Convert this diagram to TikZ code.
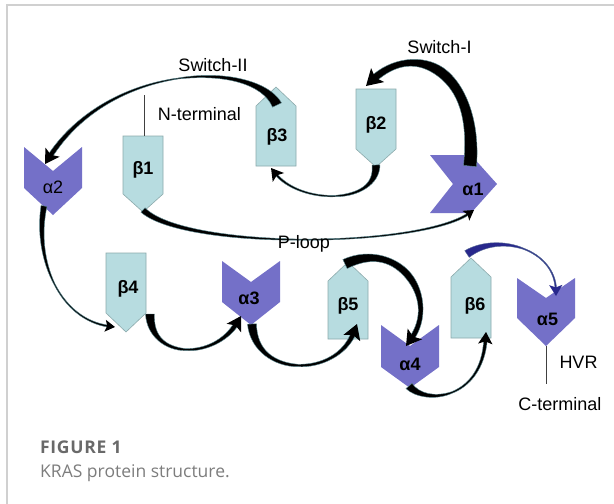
\documentclass[tikz,border=0pt]{standalone}
\usepackage{fontspec}
\setmainfont{Liberation Sans}
\newfontfamily\capfont{Open Sans}
\newfontfamily\capfontwide[LetterSpace=4]{Open Sans}
\usetikzlibrary{calc}

\definecolor{strandfill}{RGB}{183,220,224}
\definecolor{stranddraw}{RGB}{140,170,172}
\definecolor{helixfill}{RGB}{116,112,200}
\definecolor{loopedge}{RGB}{95,140,148}
\definecolor{navyloop}{RGB}{40,40,140}
\definecolor{navyedge}{RGB}{90,110,150}
\definecolor{framegray}{RGB}{208,208,208}
\definecolor{capgray}{RGB}{105,105,105}
\definecolor{capgraylight}{RGB}{125,125,125}

\tikzset{
  strand/.style={fill=strandfill, draw=stranddraw, line width=0.6pt},
  helix/.style={fill=helixfill, draw=none},
  sslabel/.style={font=\fontsize{18}{18}\selectfont\bfseries, anchor=base, inner sep=0pt},
  sslabelthin/.style={font=\fontsize{18}{18}\selectfont, anchor=base, inner sep=0pt},
  plain/.style={font=\fontsize{18}{18}\selectfont, anchor=base, inner sep=0pt},
  tether/.style={draw=black!75, line width=0.7pt},
  loopfill/.style={fill=black, draw=loopedge, line width=0.4pt},
  loopline/.style={draw=loopedge, line width=0.8pt},
  loophead/.style={fill=black},
  navyfill/.style={fill=navyloop, draw=navyedge, line width=0.4pt},
  navyline/.style={draw=navyedge, line width=0.8pt},
  navyhead/.style={fill=navyloop},
}

% Tapered loop from #2 to the arrow tip #5 along a cubic with controls #3, #4.
% #1 family (loop/navy); #6, #7, #8 half widths (pt) at start, middle and
% just before the head; #9 head length (pt).
\newcommand\looparrow[9]{%
  \coordinate (q0) at (#2);
  \coordinate (r3) at ($(#5)!0.55*#9pt!(#4)$);
  \coordinate (q1) at ($(q0)!0.5!(#3)$);
  \coordinate (m12) at ($(#3)!0.5!(#4)$);
  \coordinate (r2) at ($(#4)!0.5!(r3)$);
  \coordinate (q2) at ($(q1)!0.5!(m12)$);
  \coordinate (r1) at ($(m12)!0.5!(r2)$);
  \coordinate (mid) at ($(q2)!0.5!(r1)$);
  \pgfmathsetmacro\wqa{(2*#6+#7)/3}%
  \pgfmathsetmacro\wqb{(#6+2*#7)/3}%
  \pgfmathsetmacro\wra{(2*#7+#8)/3}%
  \pgfmathsetmacro\wrb{(#7+2*#8)/3}%
  \draw[#1line] (q0) .. controls (q1) and (q2) .. (mid) .. controls (r1) and (r2) .. (r3);
  \filldraw[#1fill]
    ($(q0)!#6pt!90:(q1)$)
    .. controls ($(q1)!\wqa pt!-90:(q0)$) and ($(q2)!\wqb pt!90:(mid)$) .. ($(mid)!#7pt!90:(r1)$)
    .. controls ($(r1)!\wra pt!-90:(mid)$) and ($(r2)!\wrb pt!90:(r3)$) .. ($(r3)!#8pt!-90:(r2)$)
    -- ($(r3)!#8pt!90:(r2)$)
    .. controls ($(r2)!\wrb pt!-90:(r3)$) and ($(r1)!\wra pt!90:(mid)$) .. ($(mid)!#7pt!-90:(r1)$)
    .. controls ($(q2)!\wqb pt!-90:(mid)$) and ($(q1)!\wqa pt!90:(q0)$) .. ($(q0)!#6pt!-90:(q1)$)
    -- cycle;
  \fill[#1head] (#5)
    -- ($(#5)!#9pt!(#4)!0.6*#9pt!90:(#5)$)
    -- ($(#5)!0.78*#9pt!(#4)$)
    -- ($(#5)!#9pt!(#4)!0.6*#9pt!-90:(#5)$) -- cycle;
}

\begin{document}
\begin{tikzpicture}[x=1pt, y=-1pt]
\useasboundingbox (0,0) rectangle (614,504);
\fill[white] (0,0) rectangle (614,504);

% page frame
\draw[framegray, line width=1.3pt] (7,504) -- (7,5) -- (614,5);

% beta strands
\draw[strand] (123,136) -- (163,136) -- (163,194) -- (143,212) -- (123,194) -- cycle;
\draw[strand] (356,89) -- (396,89) -- (396,149) -- (376,167) -- (356,149) -- cycle;
\draw[strand] (256,166) -- (296,166) -- (296,106) -- (276,87) -- (256,106) -- cycle;
\draw[strand] (106,253) -- (146,253) -- (146,313) -- (126,332) -- (106,313) -- cycle;
\draw[strand] (328,339) -- (368,339) -- (368,281) -- (348,262) -- (328,281) -- cycle;
\draw[strand] (451,338) -- (491,338) -- (491,277) -- (471,258) -- (451,277) -- cycle;

% alpha helices
\fill[helix] (24,147) -- (53,171) -- (82,147) -- (82,188) -- (53,215) -- (24,188) -- cycle;
\fill[helix] (430,155) -- (453,184) -- (430,213) -- (471,213) -- (497,184) -- (471,155) -- cycle;
\fill[helix] (222,261) -- (251,282) -- (280,261) -- (280,302) -- (251,325) -- (222,302) -- cycle;
\fill[helix] (381,325) -- (410,346) -- (439,325) -- (439,367) -- (410,388) -- (381,367) -- cycle;
\fill[helix] (517,278) -- (546,298) -- (575,278) -- (575,318) -- (546,346) -- (517,318) -- cycle;

% element labels
\node[sslabel] (b1) at (143,174.5) {β1};
\node[sslabel] (b2) at (376,129.5) {β2};
\node[sslabel] (b3) at (277,141.5) {β3};
\node[sslabel] (b4) at (128,293) {β4};
\node[sslabel] (b5) at (348,310.5) {β5};
\node[sslabel] (b6) at (475,310) {β6};
\node[sslabelthin] (a2) at (53,193) {α2};
\node[sslabel] (a1) at (473,195) {α1};
\node[sslabel] (a3) at (249,304.5) {α3};
\node[sslabel] (a4) at (410,370) {α4};
\node[sslabel] (a5) at (547.5,325) {α5};

% termini
\coordinate (nt-top) at (144,95);
\coordinate (nt-bot) at (144,136);
\draw[tether] (nt-top) -- (nt-bot);
\coordinate (ct-top) at (546,346);
\coordinate (ct-bot) at (546,384);
\draw[tether] (ct-top) -- (ct-bot);

% loop end points (arrow tips on the receiving element)
\coordinate (b1-out) at (143,210);
\coordinate (a1-in) at (474,210);
\coordinate (a1-out) at (470,166);
\coordinate (b2-in) at (366,86);
\coordinate (b2-out) at (376,165);
\coordinate (b3-in) at (271,168);
\coordinate (b3-out) at (277,105);
\coordinate (a2-in) at (45,164);
\coordinate (a2-out) at (44,206);
\coordinate (b4-in) at (115,327);
\coordinate (b4-out) at (150,314);
\coordinate (a3-in) at (241,316);
\coordinate (a3-out) at (252,324);
\coordinate (b5-in) at (357,324);
\coordinate (b5-out) at (345,264);
\coordinate (a4-in) at (406,346);
\coordinate (a4-out) at (409,386);
\coordinate (b6-in) at (486,332);
\coordinate (b6-out) at (467,254);
\coordinate (a5-in) at (556,296);

% loops
\looparrow{loop}{b1-out}{185,250}{420,248}{a1-in}{3}{0.5}{1.2}{10}
\looparrow{loop}{a1-out}{479,70}{415,40}{b2-in}{6.5}{5}{3.5}{16}
\looparrow{loop}{b2-out}{378,205}{300,205}{b3-in}{4}{0.7}{1.2}{12}
\looparrow{loop}{b3-out}{255,60}{110,62}{a2-in}{5}{0.5}{2.5}{14}
\looparrow{loop}{a2-out}{34,260}{60,320}{b4-in}{3}{0.6}{1}{10}
\looparrow{loop}{b4-out}{150,360}{215,360}{a3-in}{4.5}{1}{2.5}{14}
\looparrow{loop}{a3-out}{255,378}{337,378}{b5-in}{4.5}{1.2}{2.5}{15}
\looparrow{loop}{b5-out}{400,238}{440,300}{a4-in}{5}{3.5}{2.5}{15}
\looparrow{loop}{a4-out}{425,405}{482,400}{b6-in}{4}{0.8}{1.8}{12}
\looparrow{navy}{b6-out}{500,232}{555,250}{a5-in}{4}{0.6}{0.8}{11}

% annotations
\node[plain] (sw2) at (213,71) {Switch-II};
\node[plain] (sw1) at (439.5,53) {Switch-I};
\node[plain] (nterm) at (199.5,120) {N-terminal};
\node[plain] (ploop) at (304,248) {P-loop};
\node[plain] (hvr) at (578.5,368) {HVR};
\node[plain] (cterm) at (560,410) {C-terminal};

% caption
\node[anchor=base west, inner sep=0pt, text=capgray, font=\capfontwide\fontsize{17.5}{17.5}\selectfont\bfseries] (figno) at (40,453) {FIGURE 1};
\node[anchor=base west, inner sep=0pt, text=capgraylight, font=\capfont\fontsize{17.5}{17.5}\selectfont] (figcap) at (40,477) {KRAS protein structure.};
\end{tikzpicture}
\end{document}
